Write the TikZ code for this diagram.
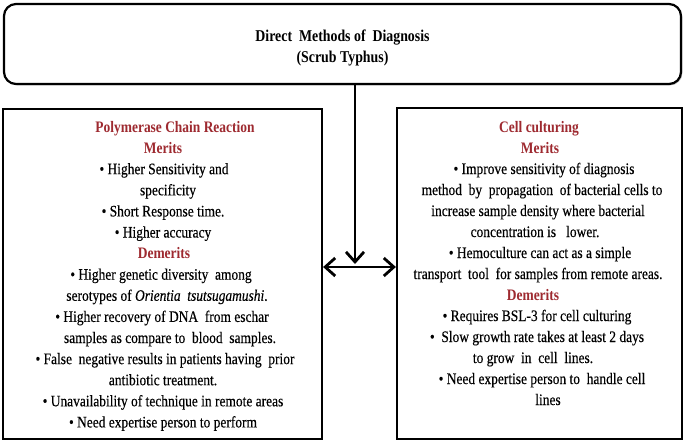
\documentclass[tikz,border=0pt]{standalone}
\usepackage{fontspec}
\setmainfont{Liberation Serif}[FakeStretch=0.84, UprightFeatures={FakeBold=0.3}, ItalicFeatures={FakeBold=0.3}]
\usetikzlibrary{arrows.meta,shadows}
\definecolor{hdred}{RGB}{158,42,48}
\newcommand{\hd}[1]{\textcolor{hdred}{\bfseries #1}}
\tikzset{
  boxstyle/.style={draw=black, line width=2.2pt, fill=white, inner sep=0pt,
    drop shadow={shadow xshift=1.3pt, shadow yshift=-1.3pt, fill=black!45, opacity=0.6}},
  txtline/.style={anchor=base, inner sep=0pt, font=\fontsize{16}{21}\selectfont},
  titleline/.style={anchor=base, inner sep=0pt, font=\fontsize{16.5}{21}\selectfont\bfseries},
  conn/.style={line width=2.8pt, draw=black},
  tip/.style={-{Straight Barb[length=10pt,width=18pt,line width=2.8pt]}},
  dtip/.style={{Straight Barb[length=10pt,width=18pt,line width=2.8pt]}-{Straight Barb[length=10pt,width=18pt,line width=2.8pt]}}
}
\begin{document}
\begin{tikzpicture}[x=1pt,y=-1pt]
\useasboundingbox (0,0) rectangle (685,445);
% boxes
\node[boxstyle, rounded corners=12pt, minimum width=677pt, minimum height=80pt] (top) at (342.5,44) {};
\node[boxstyle, minimum width=319pt, minimum height=330pt] (pcr) at (162.5,274) {};
\node[boxstyle, minimum width=285pt, minimum height=331pt] (cell) at (539.5,273.5) {};
% title
\node[titleline] (t1) at (342.5,41) {Direct\ \ Methods of\ \ Diagnosis};
\node[titleline] (t2) at (342.5,62) {(Scrub Typhus)};
% connectors
\coordinate (hmid) at (355,267);
\coordinate (vend) at (355,264);
\draw[conn, tip] (top.south -| hmid) -- (vend);
\draw[conn, dtip] (pcr.east |- hmid) -- (cell.west |- hmid);
% left text
\foreach \x/\t [count=\i] in {
  175/{\hd{Polymerase Chain Reaction}},
  163/{\hd{Merits}},
  164/{• Higher Sensitivity and},
  168/{specificity},
  163/{• Short Response time.},
  163/{• Higher accuracy},
  164/{\hd{Demerits}},
  161/{• Higher genetic diversity\ \ among},
  167/{serotypes of\ \textit{Orientia\ \ tsutsugamushi}.},
  162/{• Higher recovery of DNA\ \ from eschar},
  170/{samples as compare to\ \ blood\ \ samples.},
  165/{• False\ \ negative results in patients having\ \ prior},
  163/{antibiotic treatment.},
  163/{• Unavailability of technique in remote areas},
  163/{• Need expertise person to perform}
}{
  \node[txtline] (pl\i) at (\x, {132+21.1*(\i-1)}) {\t};
}
% right text
\foreach \x/\t [count=\i] in {
  539/{\hd{Cell culturing}},
  540/{\hd{Merits}},
  544/{• Improve sensitivity of diagnosis},
  542/{method\ \ by\ \ propagation\ \ of bacterial cells to},
  538/{increase sample density where bacterial},
  535/{concentration is\ \ \ lower.},
  540/{• Hemoculture can act as a simple},
  538/{transport\ \ tool\ \ for samples from remote areas.},
  533/{\hd{Demerits}},
  537/{• Requires BSL-3 for cell culturing},
  537/{•\ \ Slow growth rate takes at least 2 days},
  533/{to grow\ \ in\ \ cell\ \ lines.},
  542/{• Need expertise person to\ \ handle cell},
  548/{lines}
}{
  \node[txtline] (cl\i) at (\x, {132+21.0*(\i-1)}) {\t};
}
\end{tikzpicture}
\end{document}
